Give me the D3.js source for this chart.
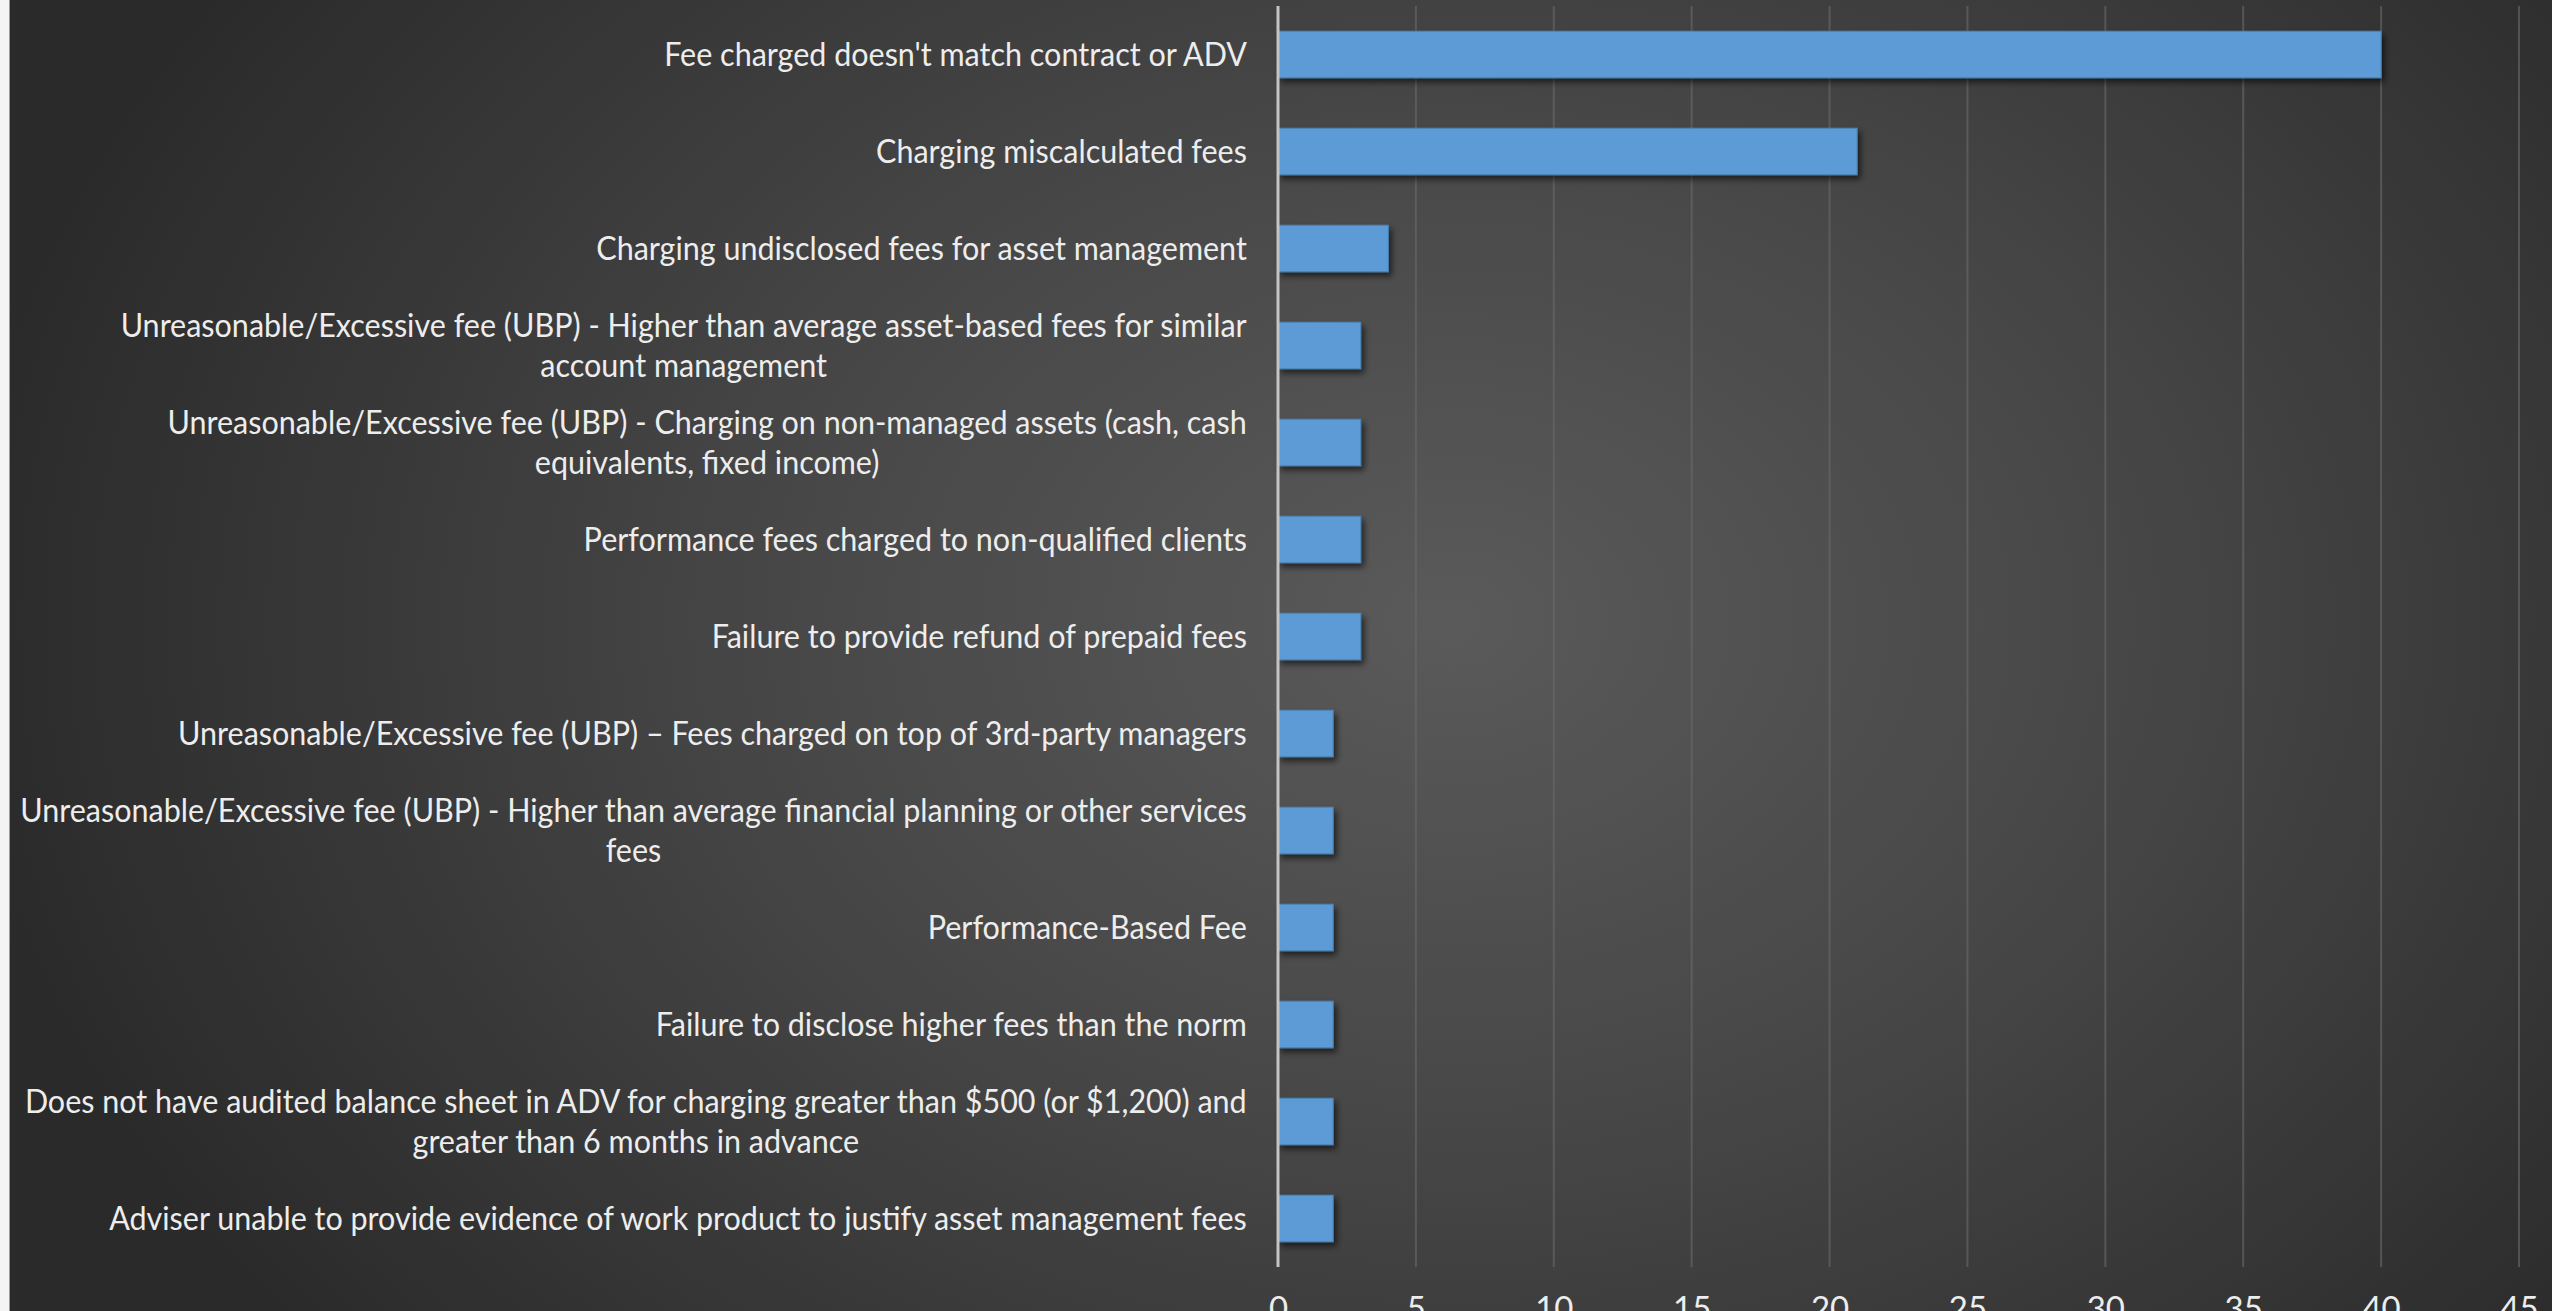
<!DOCTYPE html>
<html>
<head>
<meta charset="utf-8">
<script src="https://cdn.jsdelivr.net/npm/d3@7"></script>
<style>
  html, body { margin: 0; padding: 0; background: #ffffff; overflow: hidden; }
  svg { display: block; }
</style>
</head>
<body>
<svg id="chart" width="2552" height="1311"></svg>
<script>
// ---- Data ----
const categories = [
  "Fee charged doesn't match contract or ADV",
  "Charging miscalculated fees",
  "Charging undisclosed fees for asset management",
  "Unreasonable/Excessive fee (UBP) - Higher than average asset-based fees for similar account management",
  "Unreasonable/Excessive fee (UBP) - Charging on non-managed assets (cash, cash equivalents, fixed income)",
  "Performance fees charged to non-qualified clients",
  "Failure to provide refund of prepaid fees",
  "Unreasonable/Excessive fee (UBP) \u2013 Fees charged on top of 3rd-party managers",
  "Unreasonable/Excessive fee (UBP) - Higher than average financial planning or other services fees",
  "Performance-Based Fee",
  "Failure to disclose higher fees than the norm",
  "Does not have audited balance sheet in ADV for charging greater than $500 (or $1,200) and greater than 6 months in advance",
  "Adviser unable to provide evidence of work product to justify asset management fees"
];
const labelLines = [
  ["Fee charged doesn't match contract or ADV"],
  ["Charging miscalculated fees"],
  ["Charging undisclosed fees for asset management"],
  ["Unreasonable/Excessive fee (UBP) - Higher than average asset-based fees for similar", "account management"],
  ["Unreasonable/Excessive fee (UBP) - Charging on non-managed assets (cash, cash", "equivalents, fixed income)"],
  ["Performance fees charged to non-qualified clients"],
  ["Failure to provide refund of prepaid fees"],
  ["Unreasonable/Excessive fee (UBP) \u2013 Fees charged on top of 3rd-party managers"],
  ["Unreasonable/Excessive fee (UBP) - Higher than average financial planning or other services", "fees"],
  ["Performance-Based Fee"],
  ["Failure to disclose higher fees than the norm"],
  ["Does not have audited balance sheet in ADV for charging greater than $500 (or $1,200) and", "greater than 6 months in advance"],
  ["Adviser unable to provide evidence of work product to justify asset management fees"]
];
const values = [40, 21, 4, 3, 3, 3, 3, 2, 2, 2, 2, 2, 2];
const xTicks = [0, 5, 10, 15, 20, 25, 30, 35, 40, 45];
const xDomain = [0, 45];

// ---- Layout ----
const W = 2552, H = 1311;
const plotLeft = 1278, plotRight = 2519, plotTop = 6, plotBottom = 1267;
const fontFamily = "Lato, 'Open Sans', 'Liberation Sans', sans-serif";
const fontSize = 33;
const textColor = "#ededed";

const svg = d3.select("#chart");
const defs = svg.append("defs");

const grad = defs.append("radialGradient")
  .attr("id", "bg")
  .attr("gradientUnits", "userSpaceOnUse")
  .attr("cx", 1450).attr("cy", 620).attr("r", 1500)
  .attr("gradientTransform", "translate(1450,620) scale(1,0.75) translate(-1450,-620)");
grad.append("stop").attr("offset", "0%").attr("stop-color", "#5a5a5a");
grad.append("stop").attr("offset", "45%").attr("stop-color", "#474747");
grad.append("stop").attr("offset", "100%").attr("stop-color", "#2a2a2a");

const shadow = defs.append("filter").attr("id", "shadow")
  .attr("x", "-20%").attr("y", "-30%").attr("width", "140%").attr("height", "180%");
shadow.append("feDropShadow")
  .attr("dx", 3).attr("dy", 4).attr("stdDeviation", 3)
  .attr("flood-color", "#000").attr("flood-opacity", 0.6);

// background
svg.append("rect").attr("x", 0).attr("y", 0).attr("width", W).attr("height", H).attr("fill", "#f4f4f4");
svg.append("rect").attr("x", 9).attr("y", 0).attr("width", W - 9).attr("height", H).attr("fill", "url(#bg)");
svg.append("line").attr("x1", 9.5).attr("x2", 9.5).attr("y1", 0).attr("y2", H)
  .attr("stroke", "#9a9a9a").attr("stroke-width", 1);

// scales
const x = d3.scaleLinear().domain(xDomain).range([plotLeft, plotRight]);
const gap = 0.52;
const y = d3.scaleBand().domain(categories).range([plotTop, plotBottom])
  .paddingInner(gap).paddingOuter(gap / 2);

// gridlines
svg.append("g").selectAll("line").data(xTicks.filter(t => t !== 0)).join("line")
  .attr("x1", d => x(d)).attr("x2", d => x(d))
  .attr("y1", plotTop).attr("y2", plotBottom)
  .attr("stroke", "#6a6a6a").attr("stroke-opacity", 0.6).attr("stroke-width", 2);

// bars
svg.append("g").selectAll("rect").data(categories).join("rect")
  .attr("x", x(0))
  .attr("y", d => y(d))
  .attr("width", (d, i) => x(values[i]) - x(0))
  .attr("height", y.bandwidth())
  .attr("fill", "#5b9bd5")
  .attr("stroke", "#4a84b8").attr("stroke-width", 1)
  .attr("filter", "url(#shadow)");

// zero axis line
svg.append("line")
  .attr("x1", x(0)).attr("x2", x(0))
  .attr("y1", plotTop).attr("y2", plotBottom)
  .attr("stroke", "#c4c4c4").attr("stroke-width", 3);

// x tick labels
const xAxis = d3.axisBottom(x).tickValues(xTicks).tickSize(0).tickPadding(0);
const gx = svg.append("g").attr("transform", `translate(0, ${plotBottom + 30})`).call(xAxis);
gx.select(".domain").remove();
gx.selectAll("text")
  .attr("font-family", fontFamily).attr("font-size", fontSize)
  .attr("fill", textColor).attr("dy", "0.71em");

// category labels
const labelRight = plotLeft - 31;
const lineH = 40.7;
const lg = svg.append("g");
const groups = lg.selectAll("g").data(categories).join("g");
groups.each(function(d, i) {
  const g = d3.select(this);
  const lines = labelLines[i];
  const t = g.append("text")
    .attr("font-family", fontFamily).attr("font-size", fontSize)
    .attr("fill", textColor).attr("text-anchor", "middle");
  lines.forEach((ln, j) => {
    t.append("tspan").attr("x", 0)
      .attr("y", (j - (lines.length - 1) / 2) * lineH)
      .attr("dy", "0.35em").text(ln);
  });
});
// condense the substitute font horizontally to mimic Calibri metrics
const refWidth = groups.filter((d, i) => i === 0).select("text").node().getComputedTextLength();
const k = 583 / refWidth;
groups.each(function(d, i) {
  const g = d3.select(this);
  const t = g.select("text");
  let maxW = 0;
  t.selectAll("tspan").each(function() { maxW = Math.max(maxW, this.getComputedTextLength()); });
  const cx = labelRight - (maxW * k) / 2;
  const cy = y(d) + y.bandwidth() / 2;
  g.attr("transform", `translate(${cx}, ${cy}) scale(${k}, 1)`);
});
</script>
</body>
</html>
